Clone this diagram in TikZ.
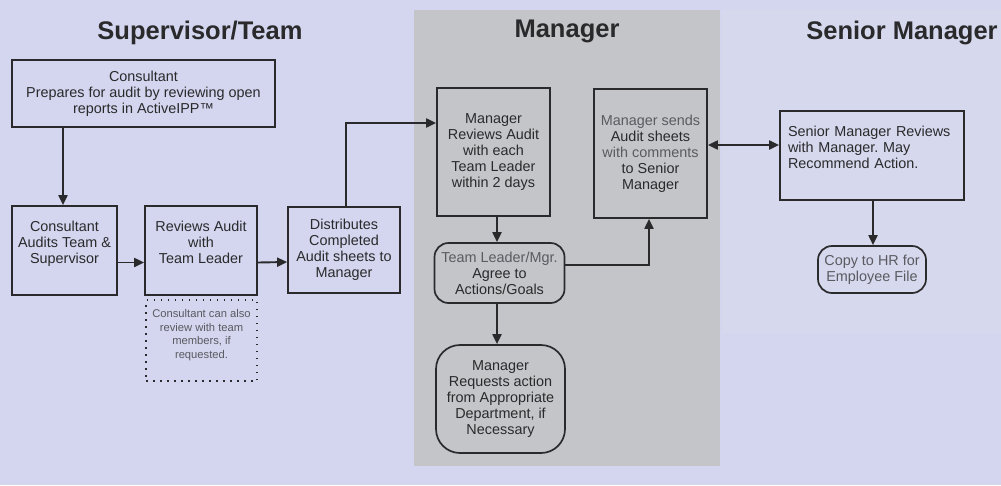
\documentclass[tikz,border=0pt]{standalone}
\usepackage{fontspec}
\setmainfont{Liberation Sans}
\usetikzlibrary{arrows.meta}
\frenchspacing
\definecolor{bg}{RGB}{211,214,238}
\definecolor{bgR}{RGB}{214,216,237}
\definecolor{panel}{RGB}{196,197,200}
\definecolor{ink}{RGB}{42,42,44}
\definecolor{greyink}{RGB}{90,90,96}
\tikzset{
  box/.style={draw=ink, line width=1.7pt, align=center, inner sep=2pt,
    font=\fontsize{14.4}{16}\selectfont, text=ink},
  rbox/.style={box, rounded corners=14pt},
  note/.style={draw=ink, line width=1.5pt, dash pattern=on 1.5pt off 5.5pt, align=center,
    font=\fontsize{11.2}{13.5}\selectfont, text=greyink},
  title/.style={font=\bfseries\fontsize{25.5}{28}\selectfont, text=ink},
  arr/.style={draw=ink, line width=1.9pt, -{Triangle[length=10pt,width=9pt]}},
  darr/.style={draw=ink, line width=1.9pt, {Triangle[length=10pt,width=9pt]}-{Triangle[length=10pt,width=9pt]}},
}
\begin{document}
\begin{tikzpicture}[x=1pt,y=-1pt]
\useasboundingbox (0,0) rectangle (1001,485);
\fill[bg] (0,0) rectangle (1001,485);
\fill[bgR] (722,10) rectangle (1001,333);
\fill[panel] (414,10) rectangle (720,466);

\node[title] (t1) at (200,33) {Supervisor/Team};
\node[title] (t2) at (567,31) {Manager};
\node[title] (t3) at (902,33) {Senior Manager};

\node[box, minimum width=263pt, minimum height=67pt] (top) at (143.5,93.5)
  {Consultant\\Prepares for audit by reviewing open\\reports in ActiveIPP™};
\node[box, minimum width=105pt, minimum height=89pt] (cat) at (64.5,250.5)
  {Consultant\\Audits Team \&\\Supervisor\\\mbox{}};
\node[box, minimum width=112pt, minimum height=89pt] (rev) at (201,250.5)
  {Reviews Audit\\with\\Team Leader\\\mbox{}};
\node[box, minimum width=112pt, minimum height=86pt] (dist) at (344,250)
  {Distributes\\Completed\\Audit sheets to\\Manager};
\node[note, minimum width=111pt, minimum height=81pt] (nt) at (201.5,340.5)
  {Consultant can also\\review with team\\members, if\\requested.\\\mbox{}};

\node[box, fill=panel, minimum width=113pt, minimum height=128pt] (mrev) at (493.5,152)
  {Manager\\Reviews Audit\\with each\\Team Leader\\within 2 days};
\node[box, fill=panel, minimum width=113pt, minimum height=129pt] (msend) at (650.5,153.5)
  {\textcolor{greyink}{Manager sends}\\Audit sheets\\\textcolor{greyink}{with comments}\\to Senior\\Manager};
\node[rbox, fill=panel, minimum width=130pt, minimum height=60pt] (agree) at (499.5,273)
  {\textcolor{greyink}{Team Leader/Mgr.}\\Agree to\\Actions/Goals};
\node[rbox, fill=panel, rounded corners=24pt, minimum width=129pt, minimum height=108pt] (req) at (500.5,399)
  {Manager\\Requests action\\from Appropriate\\Department, if\\Necessary};

\node[box, align=left, inner xsep=8pt, text width=168pt, minimum height=89pt] (sen) at (872,155.5)
  {Senior Manager Reviews\\with Manager. May\\Recommend Action.\\\mbox{}};
\node[rbox, text=greyink, minimum width=108pt, minimum height=47pt] (copy) at (872,269.5)
  {Copy to HR for\\Employee File};

\coordinate (c1) at (346,123);
\coordinate (c2) at (649,265);

\draw[arr] (top.south -| 63,0) -- (cat.north -| 63,0);
\draw[arr] ([yshift=-12pt]cat.east) -- ([yshift=-12pt]rev.west);
\draw[arr] ([yshift=-12pt]rev.east) -- ([yshift=-12pt]dist.west);
\draw[arr] (dist.north -| c1) -- (c1) -- (c1 -| mrev.west);
\draw[arr] (mrev.south -| 497,0) -- (agree.north -| 497,0);
\draw[arr] (agree.south -| 497,0) -- (req.north -| 497,0);
\draw[arr] (agree.east |- c2) -- (c2) -- (c2 |- msend.south);
\draw[darr] (msend.east |- 0,145) -- (sen.west |- 0,145);
\draw[arr] (sen.south -| 873,0) -- (copy.north -| 873,0);
\end{tikzpicture}
\end{document}
